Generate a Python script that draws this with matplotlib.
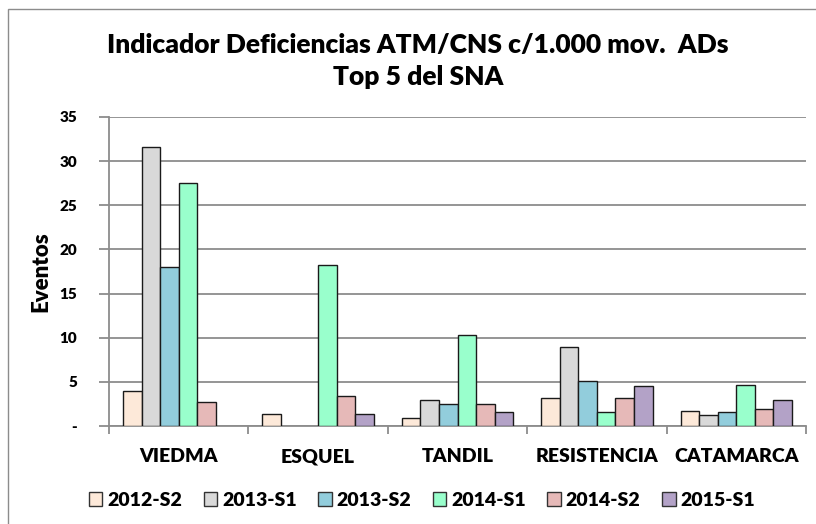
import numpy as np
import matplotlib.pyplot as plt
from matplotlib.patches import Patch, Rectangle

plt.rcParams['font.family'] = ['Lato', 'DejaVu Sans']
plt.rcParams['font.weight'] = 'heavy'

nan = np.nan
airports = ['VIEDMA', 'ESQUEL', 'TANDIL', 'RESISTENCIA', 'CATAMARCA']
periods = ['2012-S2', '2013-S1', '2013-S2', '2014-S1', '2014-S2', '2015-S1']
s2012_2 = [4.0, 1.4, 0.9, 3.2, 1.7]
s2013_1 = [31.6, nan, 2.9, 8.9, 1.3]
s2013_2 = [18.0, nan, 2.5, 5.1, 1.6]
s2014_1 = [27.5, 18.2, 10.3, 1.6, 4.6]
s2014_2 = [2.7, 3.4, 2.5, 3.2, 1.9]
s2015_1 = [nan, 1.4, 1.6, 4.5, 3.0]
series = [s2012_2, s2013_1, s2013_2, s2014_1, s2014_2, s2015_1]
colors = ['#FDE9D9', '#D9D9D9', '#92CDDC', '#99FFCC', '#E6B9B8', '#B3A2C7']
yticks = [0, 5, 10, 15, 20, 25, 30, 35]
ytick_labels = ['-', '5', '10', '15', '20', '25', '30', '35']

W, H = 816, 524
fig = plt.figure(figsize=(W / 100, H / 100), dpi=100)
ax = fig.add_axes([109 / W, 1 - 426 / H, 697 / W, 309 / H])

# outer chart frame
fig.add_artist(Rectangle((8 / W, -0.1), 1.2, 1 - 9 / H + 0.1, transform=fig.transFigure,
                         fill=False, edgecolor='#8c8c8c', linewidth=1.0))

x = np.arange(len(airports))
bw = 1 / 7.5
for i, (vals, col) in enumerate(zip(series, colors)):
    ax.bar(x + (i - 2.5) * bw, vals, width=bw, color=col, edgecolor='#1a1a1a',
           linewidth=1.0, zorder=3)

ax.set_xlim(-0.5, len(airports) - 0.5)
ax.set_ylim(0, 35)
ax.set_yticks(yticks)
ax.set_yticklabels(ytick_labels)
ax.yaxis.grid(True, color='#8c8c8c', linewidth=1.3, zorder=0)
ax.set_axisbelow(True)
for s in ['top', 'right']:
    ax.spines[s].set_visible(False)
for s in ['left', 'bottom']:
    ax.spines[s].set_color('#8c8c8c')
    ax.spines[s].set_linewidth(1.3)

ax.set_xticks(x)
ax.set_xticklabels(airports)
ax.set_xticks(np.arange(len(airports) + 1) - 0.5, minor=True)
ax.tick_params(axis='x', which='major', length=0, pad=16, labelsize=14)
ax.tick_params(axis='x', which='minor', length=6, color='#8c8c8c', width=1.3)
ax.tick_params(axis='y', length=7, color='#8c8c8c', width=1.3, pad=16, labelsize=11)

ax.set_ylabel('Eventos', fontsize=16, fontweight='heavy')
ax.yaxis.set_label_coords((51 - 109) / 697, 0.5)

fig.text(418 / W, 1 - 45 / H, 'Indicador Deficiencias ATM/CNS c/1.000 mov.  ADs',
         ha='center', va='center', fontsize=19, fontweight='heavy')
fig.text(418 / W, 1 - 77 / H, 'Top 5 del SNA',
         ha='center', va='center', fontsize=19, fontweight='heavy')

handles = [Patch(facecolor=c, edgecolor='#333333', linewidth=1.0) for c in colors]
fig.legend(handles, periods, loc='center', bbox_to_anchor=(422 / W, 1 - 500 / H),
           ncol=6, frameon=False, fontsize=14, handlelength=0.7, handleheight=0.7,
           handletextpad=0.25, columnspacing=1.1, borderpad=0)

fig.savefig('out.png', dpi=100)
